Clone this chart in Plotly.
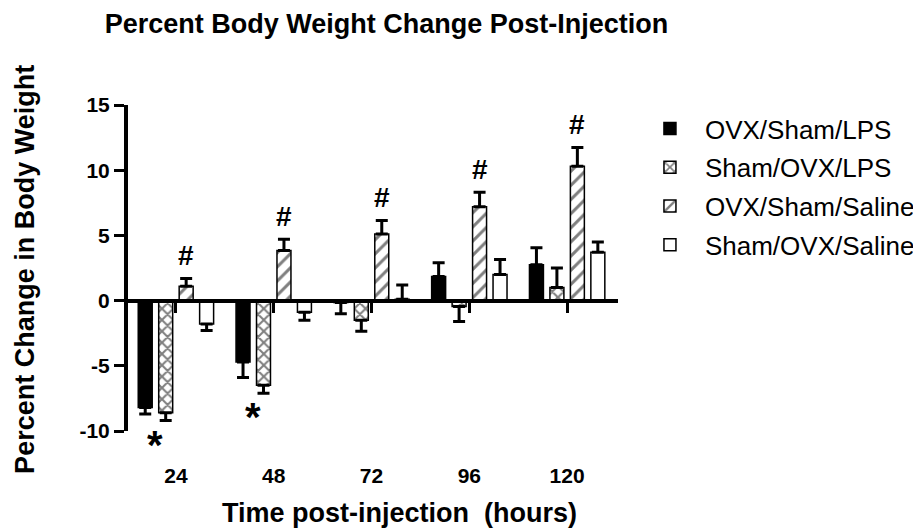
import plotly.graph_objects as go

# ---------------- data ----------------
categories = ["24", "48", "72", "96", "120"]
series_names = ["OVX/Sham/LPS", "Sham/OVX/LPS", "OVX/Sham/Saline", "Sham/OVX/Saline"]

ovx_sham_lps = [-8.2, -4.7, -0.15, 1.85, 2.75]
ovx_sham_lps_err = [0.5, 1.2, 0.85, 1.05, 1.3]

sham_ovx_lps = [-8.6, -6.5, -1.5, -0.45, 1.0]
sham_ovx_lps_err = [0.6, 0.6, 0.85, 1.15, 1.5]

ovx_sham_saline = [1.1, 3.85, 5.1, 7.2, 10.3]
ovx_sham_saline_err = [0.6, 0.85, 1.05, 1.1, 1.45]

sham_ovx_saline = [-1.8, -0.9, 0.1, 2.0, 3.7]
sham_ovx_saline_err = [0.5, 0.6, 1.1, 1.15, 0.8]

hash_marks = ["#", "#", "#", "#", "#"]      # over OVX/Sham/Saline
star_marks = ["*", "*", "", "", ""]        # below the LPS pair
y_ticks = [-10, -5, 0, 5, 10, 15]
y_tick_labels = ["-10", "-5", "0", "5", "10", "15"]

# ---------------- figure ----------------
FONT = "Liberation Sans, Arial, sans-serif"
idx = list(range(len(categories)))
values = [ovx_sham_lps, sham_ovx_lps, ovx_sham_saline, sham_ovx_saline]
errors = [ovx_sham_lps_err, sham_ovx_lps_err, ovx_sham_saline_err, sham_ovx_saline_err]
styles = [
    dict(color="black"),
    dict(color="white", pattern=dict(shape="x", fgcolor="black", bgcolor="white", size=8, solidity=0.45)),
    dict(color="white", pattern=dict(shape="/", fgcolor="black", bgcolor="white", size=10, solidity=0.3)),
    dict(color="white"),
]

bargap = 0.163
bargroupgap = 0.317
n = len(series_names)
slot = (1 - bargap) / n

fig = go.Figure()
for k, name in enumerate(series_names):
    v = values[k]
    e = errors[k]
    up = [ee if vv >= 0 else 0 for vv, ee in zip(v, e)]
    down = [ee if vv < 0 else 0 for vv, ee in zip(v, e)]
    mk = dict(styles[k])
    mk["line"] = dict(color="black", width=1.5)
    fig.add_trace(go.Bar(
        x=idx, y=v, name=name, marker=mk, legendgroup=name,
        error_y=dict(type="data", symmetric=False, array=up, arrayminus=down,
                     color="black", thickness=3, width=6),
    ))

# dummy trace to carry the bottom tick-label axis
fig.add_trace(go.Scatter(x=idx, y=[0] * len(idx), xaxis="x2", mode="markers",
                         marker=dict(opacity=0), showlegend=False, hoverinfo="skip"))

annotations = []
for i in idx:
    if hash_marks[i]:
        annotations.append(dict(
            x=i + 0.5 * slot, y=ovx_sham_saline[i] + ovx_sham_saline_err[i],
            xref="x", yref="y", text=hash_marks[i], showarrow=False,
            yanchor="bottom", yshift=5,
            font=dict(family=FONT, size=28, color="black", weight="bold")))
    if star_marks[i]:
        low = min(ovx_sham_lps[i] - ovx_sham_lps_err[i], sham_ovx_lps[i] - sham_ovx_lps_err[i])
        annotations.append(dict(
            x=i - slot, y=low, xref="x", yref="y", text=star_marks[i], showarrow=False,
            yanchor="top", yshift=0,
            font=dict(family=FONT, size=40, color="black", weight="bold")))

annotations.append(dict(
    text="Time post-injection  (hours)", xref="paper", yref="paper",
    x=0.554, y=-0.2515, xanchor="center", yanchor="middle", showarrow=False,
    font=dict(family=FONT, size=27, color="black", weight="bold")))
annotations.append(dict(
    text="Percent Change in Body Weight", xref="paper", yref="paper",
    x=-0.2104, y=0.497, xanchor="center", yanchor="middle", showarrow=False,
    textangle=-90,
    font=dict(family=FONT, size=27, color="black", weight="bold")))

# the page adds an 8px body margin, so the figure is offset by 8px
fig.update_layout(
    width=921, height=523,
    margin=dict(l=120, r=311, t=97, b=100, autoexpand=False),
    paper_bgcolor="white", plot_bgcolor="white",
    barmode="group", bargap=bargap, bargroupgap=bargroupgap,
    title=dict(text="Percent Body Weight Change Post-Injection",
               x=378.5 / 921, xref="container", xanchor="center",
               y=1 - 16 / 523, yref="container", yanchor="middle",
               font=dict(family=FONT, size=27, color="black", weight="bold")),
    xaxis=dict(type="linear", range=[-0.49, 4.52], anchor="free", position=0.4,
               showline=True, linecolor="black", linewidth=4, automargin=False,
               ticks="outside", tickvals=idx, ticklen=10, tickwidth=3, tickcolor="black",
               showticklabels=False, showgrid=False, zeroline=False),
    xaxis2=dict(type="linear", range=[-0.49, 4.52], overlaying="x", anchor="y", side="bottom",
                tickvals=idx, ticktext=categories, ticks="", showline=False, automargin=False,
                showgrid=False, zeroline=False, ticklabelstandoff=30,
                tickfont=dict(family=FONT, size=21, color="black", weight="bold")),
    yaxis=dict(range=[-10, 15], tickvals=y_ticks, ticktext=y_tick_labels,
               ticks="outside", ticklen=10, tickwidth=3, automargin=False,
               tickcolor="black", showline=True, linecolor="black", linewidth=4,
               showgrid=False, zeroline=False,
               tickfont=dict(family=FONT, size=21, color="black", weight="bold")),
    legend=dict(x=1.0346, xref="paper", xanchor="left", y=1.0, yanchor="top",
                itemwidth=60, tracegroupgap=2, bgcolor="rgba(0,0,0,0)",
                font=dict(family=FONT, size=26, color="black")),
    annotations=annotations,
    showlegend=True,
)

fig.write_html("out.html")
